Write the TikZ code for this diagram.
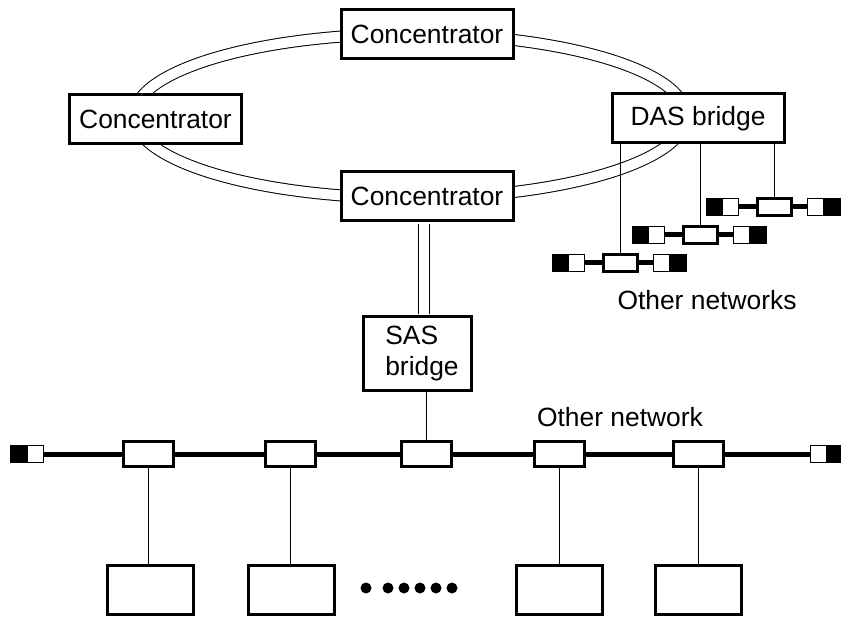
\documentclass[tikz,border=0pt]{standalone}
\usepackage{fontspec}
\setmainfont{Liberation Sans}
\usepackage{tikz}
\usepackage{xcolor}

\begin{document}
\begin{tikzpicture}[x=1pt,y=-1pt,
  font=\fontsize{26.4}{31}\selectfont,
  unit/.style={draw,line width=3pt,fill=white,inner sep=0pt,minimum width=172,minimum height=49},
  station/.style={draw,line width=3pt,fill=white,minimum width=86,minimum height=49},
  tapbox/.style={draw,line width=3pt,fill=white,inner sep=0pt,minimum width=50,minimum height=25},
  minitap/.style={draw,line width=3pt,fill=white,inner sep=0pt,minimum width=34,minimum height=17},
  termblk/.style={draw,line width=1pt,fill=black,inner sep=0pt,minimum width=16,minimum height=17},
  termwht/.style={draw,line width=1pt,fill=white,inner sep=0pt,minimum width=16,minimum height=17},
  dline/.style={draw,line width=1pt,double=white,double distance=10pt},
  bus/.style={line width=5pt},
  drop/.style={line width=1pt}]
  \useasboundingbox (0,0) rectangle (841,617);
  % --- dual ring behind the concentrators, centre (410,116) ---
  \coordinate (ring) at (410,116);
  \draw[dline] (ring) ellipse [x radius=276, y radius=82];
  % Ring units
  \node[unit] (topc)  at (427, 34.5)  {Concentrator};
  \node[unit] (leftc) at (155.5,119)  {Concentrator};
  \node[unit] (botc)  at (427,196.5)  {Concentrator};
  \node[unit] (das)   at (698,118.5)  {DAS bridge};
  % SAS bridge hangs off the lower concentrator (text sits left of centre)
  \node[draw,line width=3pt,fill=white,align=left,minimum width=108,minimum height=74] (sas) at (417,354)
    {\hspace*{10pt}SAS\\\hspace*{10pt}bridge};
  \draw[dline,shorten <=1.5pt,shorten >=1.5pt] ([xshift=-3.5]botc.south) -- ([xshift=-3.5]botc.south |- sas.north);
  % --- small networks under the DAS bridge: start x, centre y ---
  \foreach \k/\s/\y in {1/552/263, 2/632/235, 3/706/207} {
    \node[termblk] (lb\k) at (\s+8,\y) {};
    \node[termwht] (lw\k) at (\s+24.5,\y) {};
    \node[minitap] (tap\k) at (\s+68,\y) {};
    \node[termwht] (rw\k) at (\s+109.5,\y) {};
    \node[termblk] (rb\k) at (\s+126,\y) {};
    \draw[bus] (lw\k) -- (tap\k) -- (rw\k);
    \draw[drop] (tap\k) -- (tap\k |- das.south);
  }
  \node[anchor=base] (othnets) at (707,310) {Other networks};
  % --- main bus, y = 454.5 ---
  \node[termblk] (blb) at (18.5,454.5) {};
  \node[termwht] (blw) at (35,454.5) {};
  \node[termwht] (brw) at (818.5,454.5) {};
  \node[termblk] (brb) at (834.5,454.5) {};
  \node[tapbox] (t1) at (148,454.5) {};
  \node[tapbox] (t2) at (290,454.5) {};
  \node[tapbox] (t3) at (426,454.5) {};
  \node[tapbox] (t4) at (559,454.5) {};
  \node[tapbox] (t5) at (698.5,454.5) {};
  \draw[bus] (blw) -- (t1) -- (t2) -- (t3) -- (t4) -- (t5) -- (brw);
  \draw[drop] (t3) -- (t3 |- sas.south);
  \node[anchor=base] (othnet) at (620,427) {Other network};
  % Stations below the bus
  \node[station] (s1) at (150,589.5) {};
  \node[station] (s2) at (291.5,589.5) {};
  \node[station] (s3) at (559.5,589.5) {};
  \node[station] (s4) at (698.5,589.5) {};
  \draw[drop] (t1) -- (t1 |- s1.north);
  \draw[drop] (t2) -- (t2 |- s2.north);
  \draw[drop] (t4) -- (t4 |- s3.north);
  \draw[drop] (t5) -- (t5 |- s4.north);
  % dots between the second and third station
  \foreach \x in {366,388,404,420,436,452}
    \fill (\x,588) circle (5.5);
\end{tikzpicture}
\end{document}
